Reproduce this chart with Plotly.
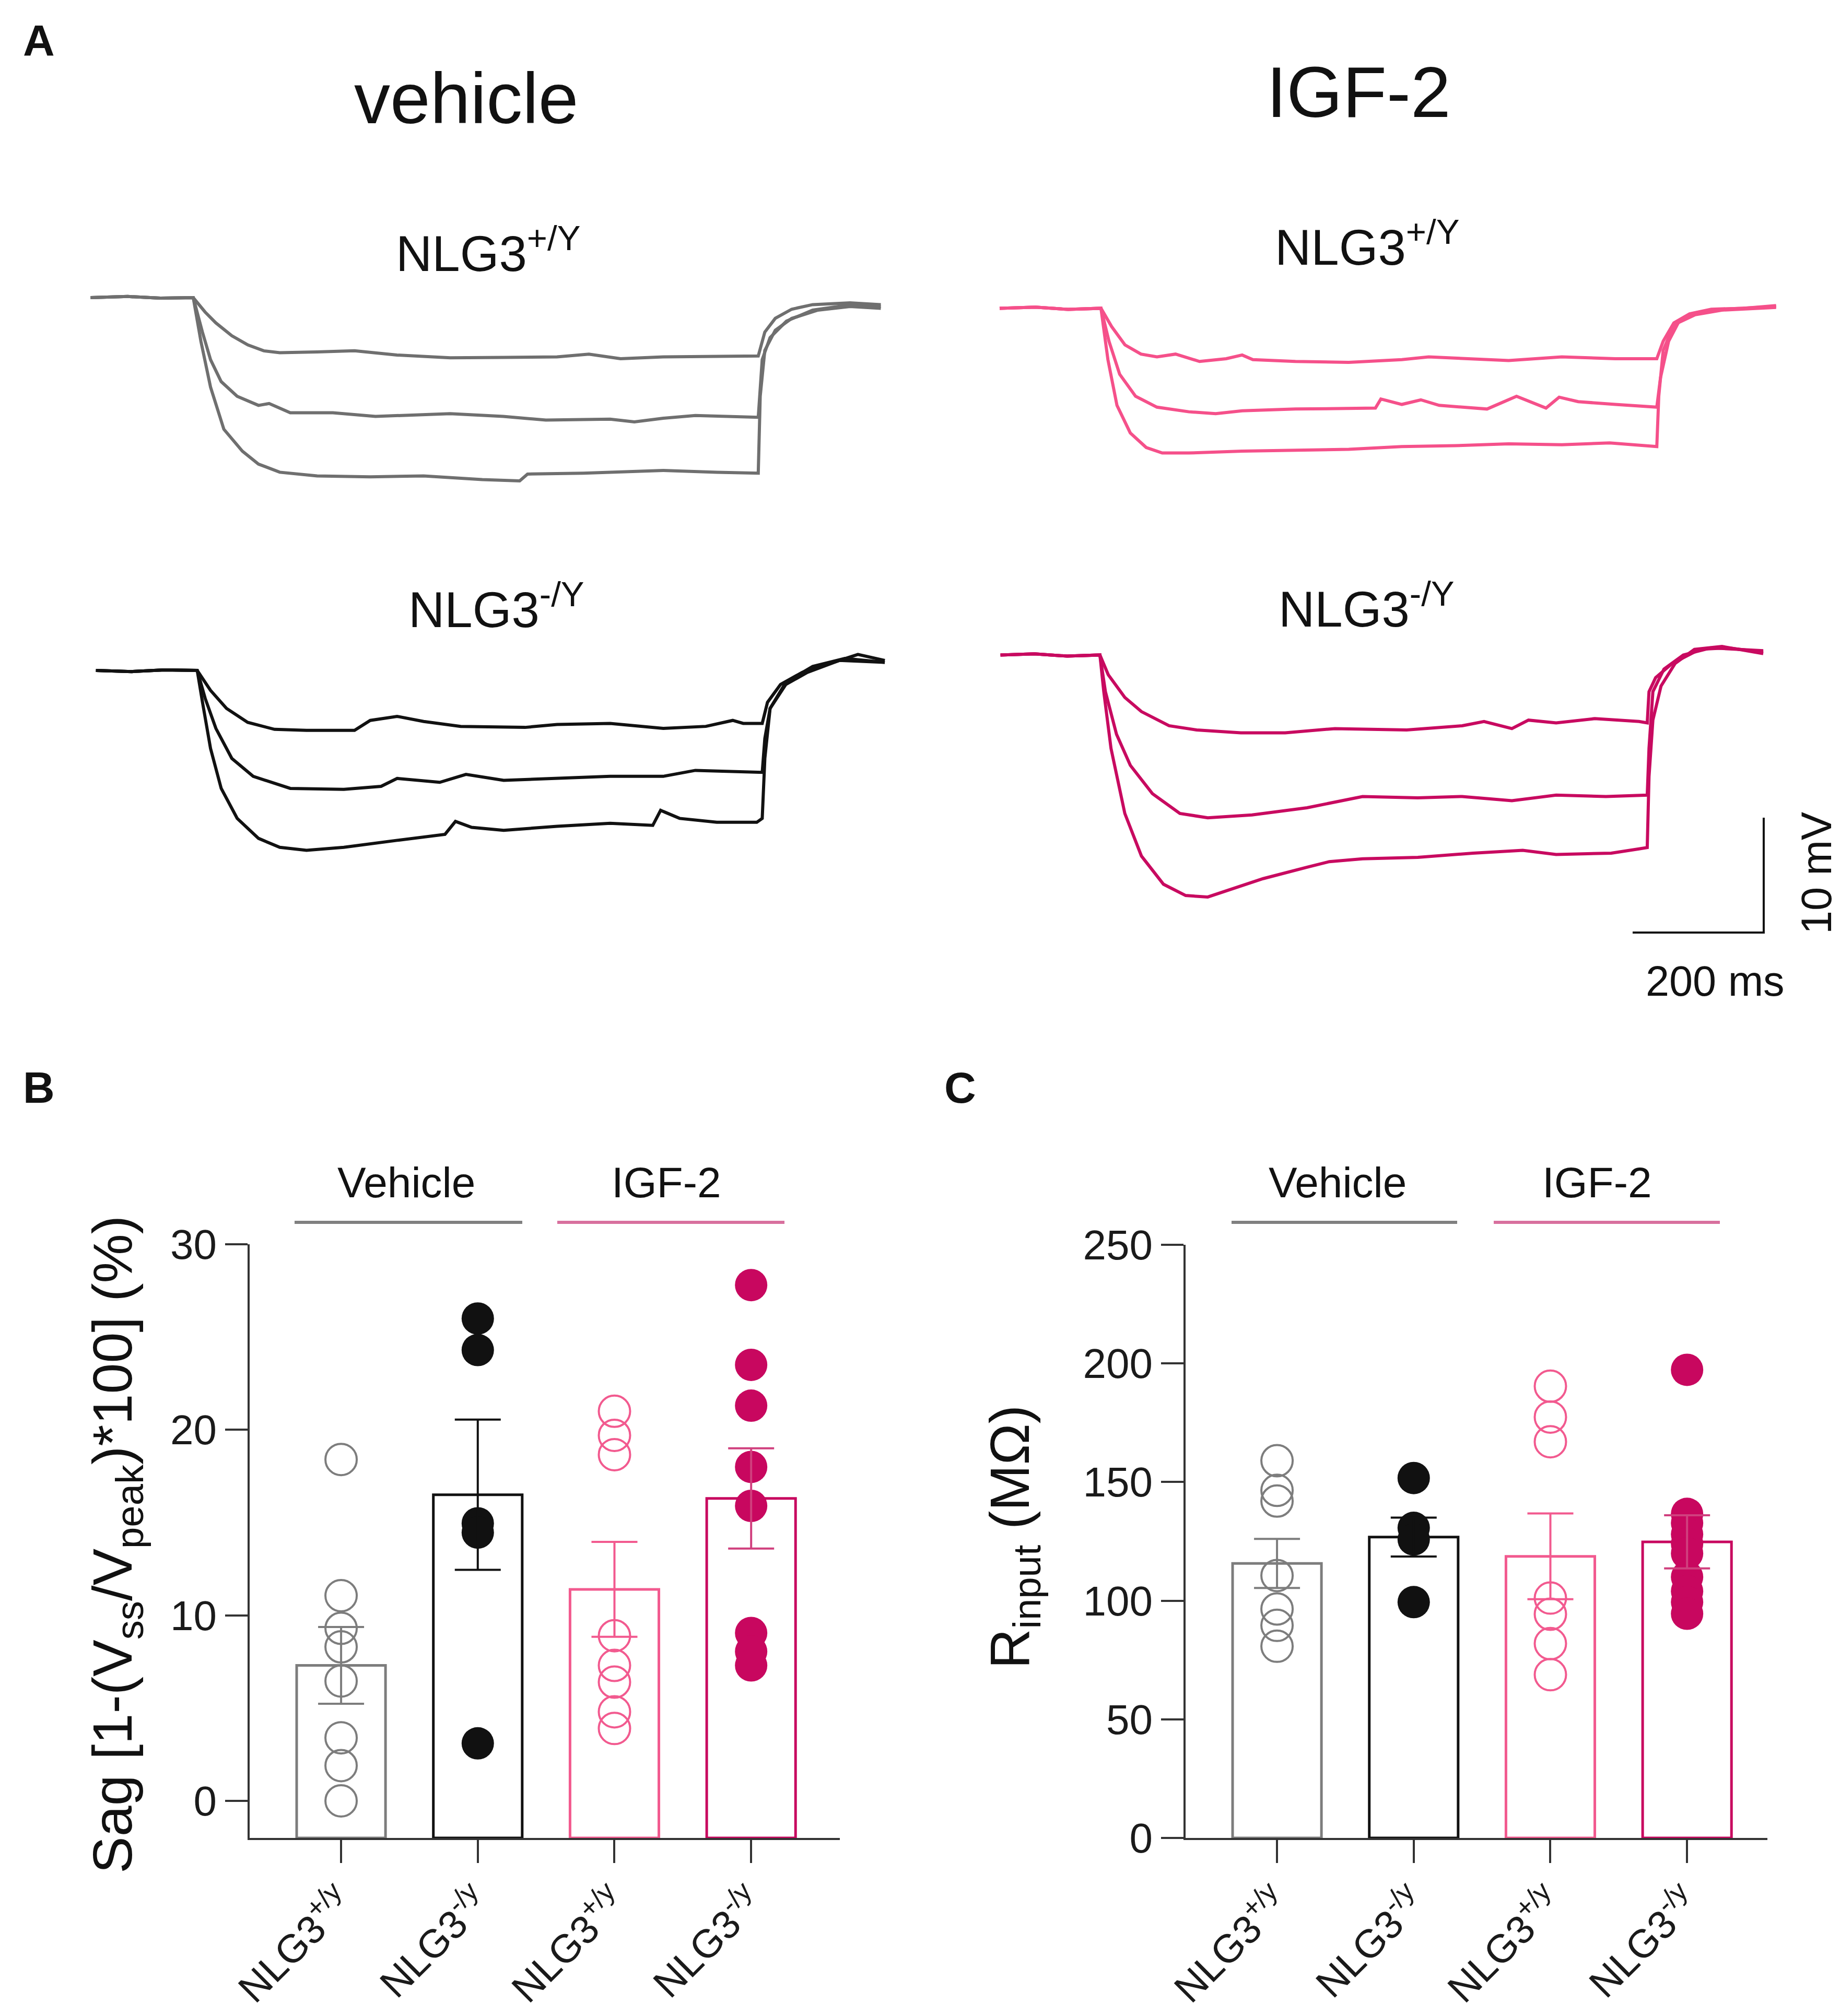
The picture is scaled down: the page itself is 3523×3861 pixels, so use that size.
import plotly.graph_objects as go

W, H = 3523, 3861
FONT = "Liberation Sans, Arial, Helvetica, sans-serif"

# ---------------- Panel A: voltage traces (t in ms from step onset, V in mV from baseline)
veh_wt = [
    [(-156.6, 0), (-100, 0.1), (-50, -0.05), (0, 0), (18, -1.25), (34.5, -2.2), (58.9, -3.32), (83.3, -4.12),
     (107.6, -4.63), (132, -4.79), (189, -4.73), (246, -4.63), (311, -5.0), (392, -5.24), (473, -5.2),
     (555, -5.16), (603.6, -4.92), (652, -5.32), (717, -5.16), (799, -5.08), (862, -5.08), (872, -3.0),
     (888, -1.8), (913, -1.01), (945, -0.61), (1002, -0.45), (1049, -0.61)],
    [(-156.6, 0), (-100, 0.1), (-50, -0.05), (0, 0), (14, -3.0), (26.4, -5.4), (42.6, -7.31), (67, -8.59),
     (99.5, -9.38), (115.8, -9.22), (148, -10.02), (213, -10.02), (278, -10.34), (392, -10.1), (473, -10.34),
     (538, -10.66), (636, -10.58), (673, -10.82), (717, -10.5), (766, -10.26), (862, -10.42), (868, -5.4),
     (880, -3.48), (905, -2.05), (945, -1.09), (994, -0.69), (1049, -0.77)],
    [(-156.6, 0), (-100, 0.1), (-50, -0.05), (0, 0), (11.7, -3.8), (26.4, -7.79), (46.7, -11.46), (75, -13.37),
     (99.5, -14.49), (132, -15.2), (189, -15.52), (270, -15.6), (351.5, -15.52), (441, -15.84), (498, -15.95),
     (510, -15.36), (595, -15.28), (717, -15.04), (799, -15.2), (862, -15.28), (865, -8.59), (872, -4.6),
     (888, -2.84), (913, -1.81), (953, -1.09), (1002, -0.77), (1049, -0.93)],
]
igf_wt = [
    [(-154.6, 0), (-100, 0.1), (-50, -0.1), (0, 0), (16.3, -1.6), (36.6, -3.19), (61, -3.99), (85.4, -4.23),
     (113.8, -3.99), (150.4, -4.63), (191, -4.39), (215.4, -4.07), (231.7, -4.47), (296.7, -4.63), (378, -4.71),
     (459, -4.47), (500, -4.23), (581, -4.47), (622, -4.55), (703, -4.23), (784.5, -4.39), (848, -4.39),
     (857.7, -2.87), (874, -1.28), (898, -0.48), (931, -0.08), (980, 0), (1030, 0.24)],
    [(-154.6, 0), (-100, 0.1), (-50, -0.1), (0, 0), (12.2, -2.87), (28.5, -5.74), (52.8, -7.66), (85.4, -8.61),
     (134, -9.01), (175, -9.17), (215.4, -8.93), (296.7, -8.77), (418.7, -8.69), (427, -7.9), (459, -8.37),
     (488, -7.97), (516, -8.45), (589, -8.77), (634, -7.66), (679, -8.69), (699, -7.74), (728, -8.13),
     (784.5, -8.37), (848, -8.61), (853.6, -6.06), (866, -2.87), (882, -1.12), (906.5, -0.4), (947, -0.08),
     (1030, 0.16)],
    [(-154.6, 0), (-100, 0.1), (-50, -0.1), (0, 0), (10.6, -4.47), (24.4, -8.45), (44.7, -10.85), (69, -12.12),
     (93.5, -12.6), (134, -12.6), (215.4, -12.44), (296.7, -12.36), (378, -12.28), (459, -12.04),
     (540.6, -11.96), (622, -11.8), (703, -11.88), (776, -11.72), (848, -12.04), (851, -7.66), (857.7, -3.67),
     (874, -1.44), (906.5, -0.56), (947, -0.16), (1030, 0.08)],
]
veh_ko = [
    [(-154.5, 0), (-100, -0.1), (-50, 0.05), (0, 0), (20.3, -1.74), (44.7, -3.31), (77, -4.52), (118, -5.13),
     (166.7, -5.22), (240, -5.22), (264, -4.35), (305, -4.0), (345.5, -4.44), (402, -4.87), (500, -4.96),
     (549, -4.7), (630, -4.61), (711, -5.05), (776, -4.87), (817, -4.35), (833, -4.61), (862, -4.61),
     (870, -2.78), (890, -1.22), (923, -0.17), (971.5, 0.7), (1008, 1.39), (1049, 0.87)],
    [(-154.5, 0), (-100, -0.1), (-50, 0.05), (0, 0), (12.2, -2.44), (28.5, -5.05), (52.8, -7.66), (85.4, -9.22),
     (142, -10.27), (223.6, -10.35), (280.5, -10.09), (305, -9.4), (370, -9.74), (410, -9.05), (467.5, -9.57),
     (549, -9.4), (630, -9.22), (711, -9.22), (760, -8.7), (862, -8.87), (866, -5.92), (874, -3.31),
     (898, -1.22), (931, -0.17), (979.6, 0.87), (1049, 0.7)],
    [(-154.5, 0), (-100, -0.1), (-50, 0.05), (0, 0), (8.1, -2.78), (20.3, -6.79), (36.6, -10.27), (61, -12.88),
     (93.5, -14.62), (126, -15.4), (166.7, -15.66), (223.6, -15.4), (305, -14.79), (378, -14.27), (394, -13.14),
     (418.7, -13.66), (467.5, -13.92), (549, -13.57), (630, -13.31), (695, -13.49), (707, -12.18),
     (736, -12.88), (792.7, -13.22), (853.7, -13.22), (862, -12.88), (866, -7.66), (874, -3.31), (898, -1.04),
     (939, 0.35), (988, 1.04), (1049, 0.7)],
]
igf_ko = [
    [(-151.7, 0), (-100, 0.1), (-50, -0.1), (0, 0), (12.7, -1.72), (38, -3.7), (63.3, -4.93), (105.5, -6.16),
     (147.6, -6.53), (215, -6.78), (282.6, -6.78), (358.5, -6.41), (468, -6.53), (552.6, -6.16), (586, -5.79),
     (628.5, -6.41), (653.8, -5.67), (696, -5.91), (755, -5.54), (822.5, -5.79), (835, -5.91), (837.7, -3.2),
     (847.8, -1.97), (873, -0.74), (915, 0.49), (957.5, 0.62), (1012, 0.25)],
    [(-151.7, 0), (-100, 0.1), (-50, -0.1), (0, 0), (8.4, -3.2), (25.3, -6.9), (46.4, -9.61), (80, -12.07),
     (122, -13.8), (164.5, -14.17), (232, -13.92), (316, -13.3), (400.7, -12.32), (485, -12.44),
     (552.6, -12.32), (628.5, -12.69), (696, -12.2), (772, -12.32), (835, -12.2), (837.7, -8.13),
     (843.6, -3.2), (860.5, -1.23), (890, 0), (932, 0.62), (1012, 0.37)],
    [(-151.7, 0), (-100, 0.1), (-50, -0.1), (0, 0), (5.9, -3.2), (16.9, -8.13), (38, -13.8), (63.3, -17.5),
     (97, -19.96), (130.8, -20.94), (164.5, -21.07), (198, -20.45), (249, -19.47), (316, -18.48), (350, -17.99),
     (400.7, -17.74), (485, -17.62), (569, -17.25), (645, -17.0), (696, -17.37), (780, -17.25),
     (822.5, -16.88), (835, -16.76), (837.7, -10.6), (843.6, -5.67), (856, -2.71), (877.5, -0.74),
     (907, 0.49), (949, 0.74), (1012, 0.12)],
]
scalebar_ms = 200
scalebar_mv = 10
scalebar_corner = (1012.7, -24.16)  # ms, mV in the IGF-2 NLG3-/Y frame

# ---------------- Panels B and C
genotype_ticks = ["NLG3<sup>+/y</sup>", "NLG3<sup>-/y</sup>", "NLG3<sup>+/y</sup>", "NLG3<sup>-/y</sup>"]
sag_points = [
    [18.4, 11.06, 9.3, 8.3, 6.46, 3.4, 1.9, 0.0],
    [26.0, 24.3, 14.96, 14.46, 3.1],
    [21.0, 19.7, 18.66, 8.9, 7.3, 6.4, 4.8, 3.9],
    [27.8, 23.5, 21.3, 18.0, 15.9, 9.05, 8.05, 7.3],
]
sag_mean = [7.3, 16.5, 11.4, 16.3]
sag_sem = [2.07, 4.05, 2.56, 2.7]
rin_points = [
    [159, 146.5, 142, 110.6, 96.5, 89.6, 80.8],
    [151.7, 130.7, 125.8, 99.4],
    [190.4, 177.4, 167, 101.1, 94.3, 81.9, 68.8],
    [197.3, 136.6, 132.7, 128, 124, 119.9, 110, 104, 99.4, 94.5],
]
rin_mean = [115.7, 126.8, 118.7, 124.8]
rin_sem = [10.35, 8.2, 18.1, 11.2]

# ---------------- styles
C_GRAY = "#6f6f6f"
C_BLACK = "#111111"
C_PINK = "#f5508a"
C_MAG = "#c80a60"
bar_cols = ["#7d7d7d", "#111111", "#f25a8f", "#c8075f"]
pt_open = [True, False, True, False]
err_cols = ["#7d7d7d", "#111111", "#f25a8f", "#d0407e"]

fig = go.Figure()


def dom_x(a, b):
    return [a / W, b / W]


def dom_y(top, bottom):
    return [1 - bottom / H, 1 - top / H]


PX_MS = 1.255
PX_MV = 22.0
# (name, t0 pixel x, v0 pixel y, t range, v range, data, color)
trace_panels = [
    ("1", 362.0, 562.0, (-160, 1060), (-17, 2), veh_wt, C_GRAY),
    ("2", 2100.0, 582.4, (-160, 1040), (-14, 2), igf_wt, C_PINK),
    ("3", 369.6, 1276.0, (-160, 1060), (-17, 2.5), veh_ko, C_BLACK),
    ("4", 2098.0, 1246.4, (-160, 1100), (-26, 2), igf_ko, C_MAG),
]
layout = {}
for name, tx, vy, tr, vr, data, col in trace_panels:
    x0 = tx + tr[0] * PX_MS
    x1 = tx + tr[1] * PX_MS
    ytop = vy - vr[1] * PX_MV
    ybot = vy - vr[0] * PX_MV
    layout["xaxis" + name] = dict(domain=dom_x(x0, x1), range=list(tr), visible=False, automargin=False,
                                  anchor="y" + name, fixedrange=True)
    layout["yaxis" + name] = dict(domain=dom_y(ytop, ybot), range=list(vr), visible=False, automargin=False,
                                  anchor="x" + name, fixedrange=True)
    for tr_pts in data:
        fig.add_trace(go.Scatter(x=[p[0] for p in tr_pts], y=[p[1] for p in tr_pts], mode="lines",
                                 line=dict(color=col, width=6), xaxis="x" + name, yaxis="y" + name,
                                 showlegend=False, hoverinfo="skip"))

# scale bar
cx, cy = scalebar_corner
fig.add_trace(go.Scatter(x=[cx - scalebar_ms, cx, cx], y=[cy, cy, cy + scalebar_mv], mode="lines",
                         line=dict(color="#111111", width=4), xaxis="x4", yaxis="y4",
                         showlegend=False, hoverinfo="skip"))

# bar panels
bar_panels = [
    ("5", (470, 1600), (2375, 3512), (-2, 30), [0, 10, 20, 30], sag_points, sag_mean, sag_sem),
    ("6", (2262, 3376), (2376, 3512), (0, 250), [0, 50, 100, 150, 200, 250], rin_points, rin_mean, rin_sem),
]
for name, xs, ys, yr, yt, pts, means, sems in bar_panels:
    xa, ya = "x" + name, "y" + name
    fig.add_trace(go.Bar(x=[0, 1, 2, 3], y=[m - yr[0] for m in means], base=yr[0], width=0.65,
                         marker=dict(color="rgba(255,255,255,0)", line=dict(color=bar_cols, width=5)),
                         xaxis=xa, yaxis=ya, showlegend=False, hoverinfo="skip"))
    for i in range(4):
        if pt_open[i]:
            mk = dict(symbol="circle-open", size=60, color=bar_cols[i], line=dict(width=4, color=bar_cols[i]))
        else:
            mk = dict(symbol="circle", size=62, color=bar_cols[i], line=dict(width=0))
        fig.add_trace(go.Scatter(x=[i] * len(pts[i]), y=pts[i], mode="markers", marker=mk,
                                 xaxis=xa, yaxis=ya, showlegend=False, hoverinfo="skip"))
    for i in range(4):
        fig.add_trace(go.Scatter(x=[i], y=[means[i]], mode="markers",
                                 marker=dict(size=1, color=err_cols[i], opacity=0),
                                 error_y=dict(type="data", array=[sems[i]], color=err_cols[i],
                                              thickness=4, width=44),
                                 xaxis=xa, yaxis=ya, showlegend=False, hoverinfo="skip"))
    ctr0 = xs[0] + 0.669 * 261.7
    xr = (-0.669, (xs[1] - ctr0) / 261.7)
    layout["xaxis" + name] = dict(domain=dom_x(*xs), range=list(xr), anchor=ya, tickvals=[0, 1, 2, 3],
                                  ticktext=genotype_ticks, tickangle=-45, ticks="outside", ticklen=44,
                                  tickwidth=4, tickcolor="#333333", showline=True, linecolor="#333333",
                                  linewidth=4, showgrid=False, zeroline=False, automargin=False,
                                  tickfont=dict(size=76, color="#1a1a1a", family=FONT), fixedrange=True)
    layout["yaxis" + name] = dict(domain=dom_y(*ys), range=list(yr), anchor=xa, tickvals=yt,
                                  ticks="outside", ticklen=43, tickwidth=4, tickcolor="#333333",
                                  showline=True, linecolor="#333333", linewidth=4, showgrid=False,
                                  zeroline=False, automargin=False,
                                  tickfont=dict(size=80, color="#1a1a1a", family=FONT), fixedrange=True)

annotations = []


def ann(text, x, y, size, angle=0, bold=False, color="#111111"):
    annotations.append(dict(text=("<b>%s</b>" % text) if bold else text, x=x / W, y=1 - y / H,
                            xref="paper", yref="paper", showarrow=False, xanchor="center", yanchor="middle",
                            textangle=angle, font=dict(size=size, color=color, family=FONT)))


ann("A", 66, 70, 84, bold=True)
ann("B", 66, 2075, 84, bold=True)
ann("C", 1830, 2075, 84, bold=True)
ann("vehicle", 885, 180, 138)
ann("IGF-2", 2593, 168, 138)
ann("NLG3<sup>+/Y</sup>", 927, 470, 96)
ann("NLG3<sup>+/Y</sup>", 2610, 459, 96)
ann("NLG3<sup>-/Y</sup>", 942, 1152, 96)
ann("NLG3<sup>-/Y</sup>", 2608, 1151, 96)
ann("200 ms", 3276, 1871, 81)
ann("10 mV", 3470, 1664, 81, angle=-90)
ann("Vehicle", 770, 2256, 82)
ann("IGF-2", 1268, 2256, 82)
ann("Vehicle", 2553, 2256, 82)
ann("IGF-2", 3050, 2256, 82)
ann("Sag [1-(V<sub>ss</sub>/V<sub>peak</sub>)*100] (%)", 215, 2950, 106, angle=-90)
ann("R<sub>input</sub> (MΩ)", 1933, 2936, 106, angle=-90)

shapes = []
for (a, b, col) in [(556, 992, "#808080"), (1059, 1494, "#d8709e"), (2350, 2782, "#808080"), (2852, 3285, "#d8709e")]:
    shapes.append(dict(type="line", xref="paper", yref="paper", x0=a / W, x1=b / W, y0=1 - 2333 / H,
                       y1=1 - 2333 / H, line=dict(color=col, width=6)))

fig.update_layout(width=W, height=H, autosize=False,
                  margin=dict(l=0, r=0, t=0, b=0, pad=0, autoexpand=False), paper_bgcolor="white",
                  plot_bgcolor="rgba(0,0,0,0)", showlegend=False, annotations=annotations, shapes=shapes,
                  font=dict(family=FONT), bargap=0, **layout)

fig.write_html("out.html", config={"displayModeBar": False, "staticPlot": True})
